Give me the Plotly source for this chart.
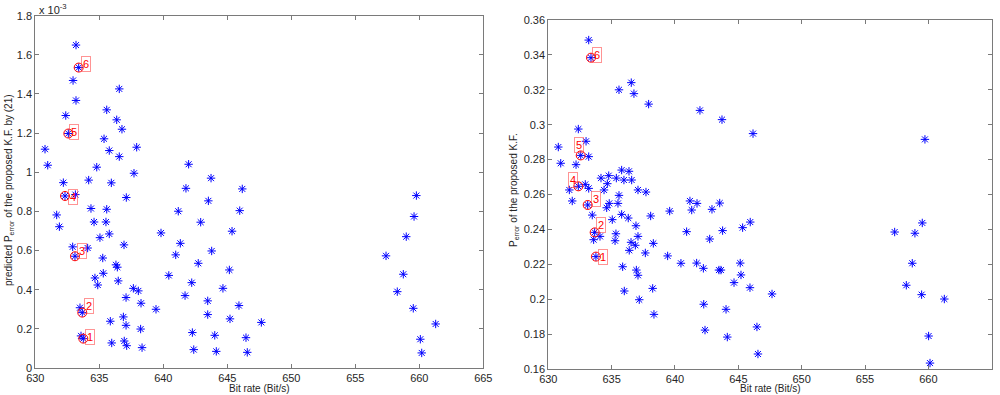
import plotly.graph_objects as go

# ---------------- data ----------------
# Left panel: predicted P_error (in units of 1e-3) vs bit rate
left_x = [633.18, 633.39, 632.95, 636.56, 633.18, 635.58, 632.38, 636.36, 636.77, 632.58,
          635.37, 630.76, 635.78, 637.92, 636.56, 630.97, 634.80, 637.71, 632.19, 634.17,
          635.94, 637.11, 632.32, 633.13, 634.35, 635.58, 631.67, 631.88, 634.59, 635.52,
          635.78, 635.05, 639.82, 636.93, 632.92, 634.09, 633.10, 635.27, 636.30, 636.41,
          635.31, 634.66, 636.48, 634.88, 640.43, 637.66, 638.05, 637.09, 638.26, 639.43,
          633.49, 633.67, 636.88, 635.86, 637.09, 638.23, 633.57, 633.75, 636.95, 635.97,
          637.14, 638.34, 641.98, 643.73, 641.77, 646.17, 643.52, 641.17, 645.97, 642.92,
          645.37, 641.33, 640.97, 643.78, 642.73, 645.16, 642.22, 644.66, 641.70, 643.47,
          645.91, 643.47, 645.21, 647.66, 642.27, 644.02, 646.46, 642.38, 644.14, 646.56,
          659.77, 659.59, 658.98, 657.40, 658.75, 658.28, 659.53, 661.28, 660.08, 660.19]
left_y = [1.650, 1.535, 1.469, 1.426, 1.367, 1.319, 1.290, 1.268, 1.220, 1.198,
          1.171, 1.118, 1.111, 1.128, 1.080, 1.036, 1.026, 0.995, 0.947, 0.960,
          0.946, 0.871, 0.879, 0.886, 0.815, 0.811, 0.782, 0.722, 0.746, 0.746,
          0.685, 0.666, 0.690, 0.629, 0.619, 0.613, 0.571, 0.562, 0.527, 0.515,
          0.484, 0.460, 0.445, 0.424, 0.473, 0.407, 0.394, 0.360, 0.331, 0.300,
          0.308, 0.283, 0.261, 0.239, 0.218, 0.199, 0.164, 0.150, 0.138, 0.128,
          0.114, 0.104, 1.041, 0.970, 0.918, 0.915, 0.854, 0.801, 0.804, 0.745,
          0.699, 0.637, 0.578, 0.598, 0.535, 0.501, 0.436, 0.407, 0.370, 0.343,
          0.319, 0.273, 0.251, 0.233, 0.181, 0.167, 0.155, 0.094, 0.085, 0.080,
          0.881, 0.774, 0.671, 0.573, 0.479, 0.390, 0.305, 0.225, 0.147, 0.077]

# Left highlighted points, labelled 1..6
left_hl_labels = ["1", "2", "3", "4", "5", "6"]
left_hl_x = [633.75, 633.67, 633.10, 632.32, 632.58, 633.39]
left_hl_y = [0.150, 0.283, 0.571, 0.879, 1.198, 1.535]

# Right panel: P_error of the proposed K.F. vs bit rate
right_x = [633.19, 633.37, 636.55, 635.58, 636.76, 637.92, 641.97, 632.37, 630.79, 632.98,
           632.56, 633.19, 630.98, 632.19, 635.79, 636.37, 634.77, 634.16, 635.37, 635.97,
           636.58, 632.92, 632.37, 634.66, 633.19, 631.66, 634.40, 637.08, 637.71, 635.58,
           631.89, 641.18, 641.74, 633.11, 634.81, 635.50, 634.61, 633.47, 635.79, 636.31,
           638.08, 639.58, 635.05, 633.66, 636.92, 640.92, 635.34, 634.08, 637.08, 633.58,
           635.27, 636.53, 638.29, 636.87, 636.39, 637.66, 633.76, 639.42, 640.47, 641.71,
           635.87, 636.95, 637.08, 638.24, 636.00, 637.18, 638.34, 643.71, 646.16, 641.32,
           642.92, 643.53, 645.94, 645.34, 643.76, 642.74, 642.24, 643.47, 643.63, 645.15,
           645.21, 644.66, 645.92, 647.66, 642.27, 644.03, 646.47, 642.37, 644.13, 646.55,
           659.73, 659.52, 657.34, 658.94, 658.73, 658.26, 659.47, 661.26, 660.02, 660.13]
right_y = [0.3485, 0.3384, 0.3241, 0.3200, 0.3178, 0.3118, 0.3082, 0.2975, 0.2872, 0.2905,
           0.2824, 0.2817, 0.2779, 0.2771, 0.2740, 0.2733, 0.2708, 0.2694, 0.2694, 0.2683,
           0.2683, 0.2658, 0.2647, 0.2662, 0.2635, 0.2626, 0.2626, 0.2626, 0.2614, 0.2595,
           0.2563, 0.2563, 0.2549, 0.2540, 0.2549, 0.2549, 0.2524, 0.2482, 0.2486, 0.2465,
           0.2477, 0.2505, 0.2456, 0.2383, 0.2421, 0.2387, 0.2375, 0.2360, 0.2360, 0.2341,
           0.2335, 0.2326, 0.2320, 0.2309, 0.2280, 0.2265, 0.2244, 0.2248, 0.2206, 0.2207,
           0.2186, 0.2167, 0.2137, 0.2062, 0.2047, 0.1997, 0.1913, 0.3029, 0.2949, 0.2511,
           0.2515, 0.2551, 0.2442, 0.2410, 0.2393, 0.2345, 0.2177, 0.2167, 0.2167, 0.2207,
           0.2139, 0.2095, 0.2066, 0.2030, 0.1971, 0.1942, 0.1841, 0.1823, 0.1783, 0.1686,
           0.2916, 0.2437, 0.2385, 0.2378, 0.2206, 0.2080, 0.2026, 0.2001, 0.1789, 0.1634]

right_hl_labels = ["1", "2", "3", "4", "5", "6"]
right_hl_x = [633.76, 633.66, 633.11, 632.37, 632.56, 633.37]
right_hl_y = [0.2244, 0.2383, 0.2540, 0.2647, 0.2824, 0.3384]

x_ticks = [630, 635, 640, 645, 650, 655, 660, 665]
left_y_ticks = [0, 0.2, 0.4, 0.6, 0.8, 1, 1.2, 1.4, 1.6, 1.8]
left_y_ticktext = ["0", "0.2", "0.4", "0.6", "0.8", "1", "1.2", "1.4", "1.6", "1.8"]
right_y_ticks = [0.16, 0.18, 0.20, 0.22, 0.24, 0.26, 0.28, 0.30, 0.32, 0.34, 0.36]
right_y_ticktext = ["0.16", "0.18", "0.2", "0.22", "0.24", "0.26", "0.28", "0.3", "0.32", "0.34", "0.36"]

# ---------------- style ----------------
FONT = "Liberation Sans, Arial, Helvetica, sans-serif"
AX_COL = "#7a7a7a"
TXT_COL = "#262626"
STAR = dict(symbol="asterisk-open", size=7, color="blue", line=dict(color="blue", width=1))
RING = dict(symbol="circle-open", size=9, color="red", line=dict(color="rgba(255,0,0,0.8)", width=1))

# label offsets (pixels) : (xanchor, xshift, yshift)
left_lbl_style = [("left", 2, 2), ("left", 2, 7), ("left", 2, 5),
                  ("left", 3, -1), ("left", 1, 2), ("left", 2, 4)]
right_lbl_style = [("left", 2, 0), ("left", 1, 7), ("left", 3, 6),
                   ("right", 0, 6), ("center", -2, 10), ("left", 1, 3)]

fig = go.Figure()
fig.add_trace(go.Scatter(x=left_x, y=left_y, mode="markers", marker=STAR,
                         xaxis="x", yaxis="y", showlegend=False, hoverinfo="x+y"))
fig.add_trace(go.Scatter(x=left_hl_x, y=left_hl_y, mode="markers", marker=RING,
                         xaxis="x", yaxis="y", showlegend=False))
fig.add_trace(go.Scatter(x=right_x, y=right_y, mode="markers", marker=STAR,
                         xaxis="x2", yaxis="y2", showlegend=False, hoverinfo="x+y"))
fig.add_trace(go.Scatter(x=right_hl_x, y=right_hl_y, mode="markers", marker=RING,
                         xaxis="x2", yaxis="y2", showlegend=False))

annotations = []
for lbls, xs, ys, styles, xr, yr in [
        (left_hl_labels, left_hl_x, left_hl_y, left_lbl_style, "x", "y"),
        (right_hl_labels, right_hl_x, right_hl_y, right_lbl_style, "x2", "y2")]:
    for t, xv, yv, (xa, xs_, ys_) in zip(lbls, xs, ys, styles):
        annotations.append(dict(
            x=xv, y=yv, xref=xr, yref=yr, text=t, showarrow=False,
            xanchor=xa, yanchor="middle", xshift=xs_, yshift=ys_,
            font=dict(family=FONT, size=11, color="red"),
            bordercolor="rgba(255,60,60,0.55)", borderwidth=1, borderpad=1))

def lab(text, x, y, angle=0, xa="center", ya="middle", size=10):
    return dict(text=text, x=x, y=y, xref="paper", yref="paper", showarrow=False,
                textangle=angle, xanchor=xa, yanchor=ya,
                font=dict(family=FONT, size=size, color=TXT_COL))

W, H = 1000, 395
annotations += [
    lab("Bit rate (Bit/s)", 259 / W, 1 - 388 / H),
    lab("Bit rate (Bit/s)", 770 / W, 1 - 388 / H),
    lab("predicted P<sub>error</sub> of the proposed K.F. by (21)", 9 / W, 1 - 190 / H, angle=-90),
    lab("P<sub>error</sub> of the proposed K.F.", 514 / W, 1 - 190 / H, angle=-90),
    lab("x 10<sup>-3</sup>", 37 / W, 1 - 9 / H, xa="left", size=11),
]

def xax(domain, anchor):
    return dict(domain=domain, anchor=anchor, range=[630, 665], tickvals=x_ticks,
                ticks="inside", ticklen=4, tickcolor=AX_COL, showline=True, linecolor=AX_COL,
                linewidth=1, mirror="ticks", showgrid=False, zeroline=False, automargin=False,
                tickfont=dict(family=FONT, size=11, color=TXT_COL))

def yax(domain, anchor, rng, tv, tt):
    return dict(domain=domain, anchor=anchor, range=rng, tickvals=tv, ticktext=tt,
                ticks="inside", ticklen=4, tickcolor=AX_COL, showline=True, linecolor=AX_COL,
                linewidth=1, mirror="ticks", showgrid=False, zeroline=False, automargin=False,
                tickfont=dict(family=FONT, size=11, color=TXT_COL))

fig.update_layout(
    width=W, height=H, margin=dict(l=0, r=0, t=0, b=0, autoexpand=False),
    paper_bgcolor="white", plot_bgcolor="white",
    xaxis=xax([35.3 / W, 483.3 / W], "y"),
    yaxis=yax([1 - 368 / H, 1 - 15.7 / H], "x", [0, 1.8], left_y_ticks, left_y_ticktext),
    xaxis2=xax([548.3 / W, 991.7 / W], "y2"),
    yaxis2=yax([1 - 369 / H, 1 - 20 / H], "x2", [0.16, 0.36], right_y_ticks, right_y_ticktext),
    annotations=annotations,
    showlegend=False,
)

fig.write_html(
    "out.html",
    config={"displayModeBar": False},
    post_script="document.body.style.margin='0';document.body.style.padding='0';"
                "document.body.style.overflow='hidden';",
)
